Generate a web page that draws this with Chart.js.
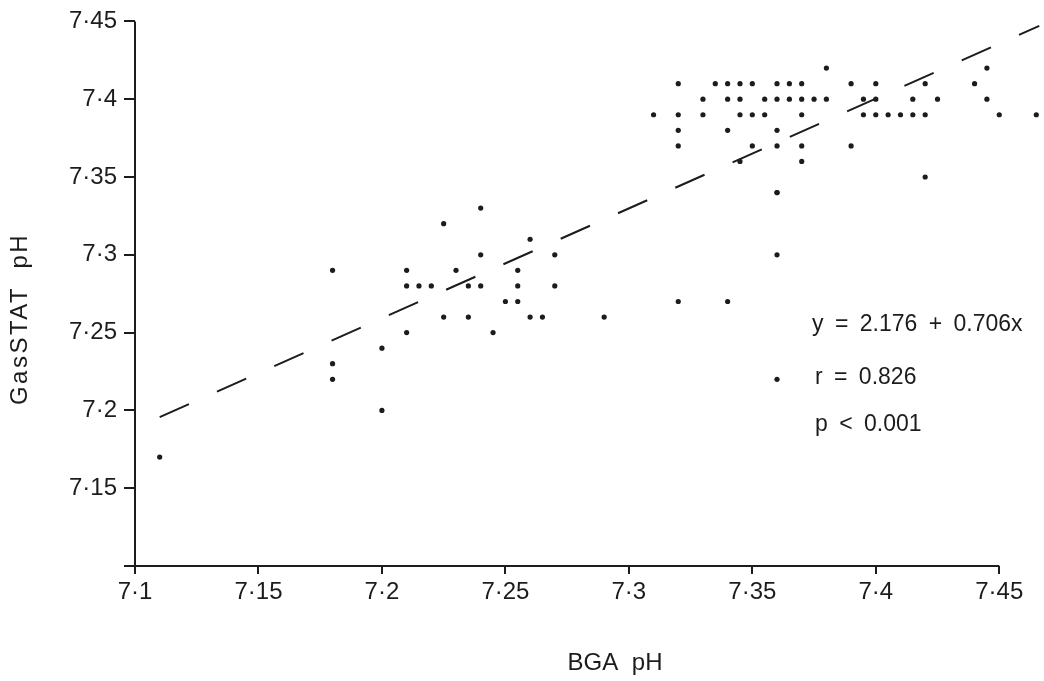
<!DOCTYPE html>
<html>
<head>
<meta charset="utf-8">
<script src="https://cdn.jsdelivr.net/npm/chart.js@4.4.1/dist/chart.umd.min.js"></script>
<style>
  html, body { margin:0; padding:0; background:#fff; }
  #wrap { width:1044px; height:681px; }
</style>
</head>
<body>
<div id="wrap"><canvas id="c" width="1044" height="681"></canvas></div>
<script>
// paired readings: blood gas analyser pH vs GasSTAT pH
const bgaPh = [
  7.11, 7.18, 7.18, 7.18, 7.20, 7.20, 7.21, 7.21, 7.215, 7.22, 7.21, 7.225, 7.225,
  7.23, 7.235, 7.235, 7.24, 7.24, 7.24, 7.245, 7.25, 7.255, 7.255, 7.255, 7.26, 7.26,
  7.265, 7.27, 7.27, 7.29, 7.32, 7.34, 7.36, 7.36, 7.36, 7.42,
  // 7.41 row
  7.32, 7.335, 7.34, 7.345, 7.35, 7.36, 7.365, 7.37, 7.39, 7.40, 7.42, 7.44,
  // 7.42 row
  7.38, 7.445,
  // 7.40 row
  7.33, 7.34, 7.345, 7.355, 7.36, 7.365, 7.37, 7.375, 7.38, 7.395, 7.40, 7.415, 7.425, 7.445,
  // 7.39 row
  7.31, 7.32, 7.33, 7.345, 7.35, 7.355, 7.37, 7.395, 7.40, 7.405, 7.41, 7.415, 7.42, 7.45, 7.465,
  // 7.38 .. 7.34
  7.32, 7.34, 7.36,
  7.32, 7.35, 7.36, 7.37, 7.39,
  7.345, 7.37,
  7.36
];
const gasstatPh = [
  7.17, 7.29, 7.23, 7.22, 7.24, 7.20, 7.29, 7.28, 7.28, 7.28, 7.25, 7.32, 7.26,
  7.29, 7.28, 7.26, 7.33, 7.30, 7.28, 7.25, 7.27, 7.29, 7.28, 7.27, 7.31, 7.26,
  7.26, 7.30, 7.28, 7.26, 7.27, 7.27, 7.30, 7.34, 7.22, 7.35,
  7.41, 7.41, 7.41, 7.41, 7.41, 7.41, 7.41, 7.41, 7.41, 7.41, 7.41, 7.41,
  7.42, 7.42,
  7.40, 7.40, 7.40, 7.40, 7.40, 7.40, 7.40, 7.40, 7.40, 7.40, 7.40, 7.40, 7.40, 7.40,
  7.39, 7.39, 7.39, 7.39, 7.39, 7.39, 7.39, 7.39, 7.39, 7.39, 7.39, 7.39, 7.39, 7.39, 7.39,
  7.38, 7.38, 7.38,
  7.37, 7.37, 7.37, 7.37, 7.37,
  7.36, 7.36,
  7.34
];

const xTicks = [7.1, 7.15, 7.2, 7.25, 7.3, 7.35, 7.4, 7.45];
const xTickLabels = ['7·1', '7·15', '7·2', '7·25', '7·3', '7·35', '7·4', '7·45'];
const yTicks = [7.1, 7.15, 7.2, 7.25, 7.3, 7.35, 7.4, 7.45];
const yTickLabels = ['', '7·15', '7·2', '7·25', '7·3', '7·35', '7·4', '7·45'];

// regression y = a + b x, drawn over the range of the readings
const fitIntercept = 2.176;
const fitSlope = 0.706;
const fitRange = [7.11, 7.4662];
const statLines = ['y = 2.176 + 0.706x', 'r = 0.826', 'p < 0.001'];

const FONT = "'Liberation Sans', Arial, sans-serif";
const INK = '#1c1c1c';

const points = bgaPh.map((x, i) => ({ x, y: gasstatPh[i] }));
const fitLine = fitRange.map(x => ({ x, y: fitIntercept + fitSlope * x }));

const useTicks = vals => scale => { scale.ticks = vals.map(v => ({ value: v })); };

// axis lines stop at the last labelled tick; titles and stats are set by hand
const frame = {
  id: 'frame',
  afterDraw(chart) {
    const { ctx, scales: { x, y } } = chart;
    const x0 = x.getPixelForValue(7.1), x1 = x.getPixelForValue(7.45);
    const y0 = y.getPixelForValue(7.1), y1 = y.getPixelForValue(7.45);
    ctx.save();
    ctx.strokeStyle = INK;
    ctx.lineWidth = 2;
    ctx.beginPath();
    ctx.moveTo(x0, y1); ctx.lineTo(x0, y0); ctx.lineTo(x1, y0);
    ctx.stroke();

    ctx.fillStyle = INK;
    ctx.textAlign = 'center';
    ctx.textBaseline = 'middle';
    ctx.font = '24px ' + FONT;
    ctx.wordSpacing = '7px';
    ctx.fillText('BGA pH', 615, 663);
    ctx.save();
    ctx.translate(20, 319);
    ctx.rotate(-Math.PI / 2);
    ctx.letterSpacing = '2.5px';
    ctx.wordSpacing = '8px';
    ctx.fillText('GasSTAT pH', 0, 0);
    ctx.restore();

    ctx.textAlign = 'left';
    ctx.font = '23px ' + FONT;
    ctx.wordSpacing = '5px';
    ctx.fillText(statLines[0], 812, 325);
    ctx.fillText(statLines[1], 815, 378);
    ctx.fillText(statLines[2], 815, 425);
    ctx.restore();
  }
};

new Chart(document.getElementById('c'), {
  type: 'scatter',
  data: {
    datasets: [
      { data: points, pointRadius: 2.6, pointBorderWidth: 0, pointBackgroundColor: INK },
      { data: fitLine, showLine: true, borderColor: INK, borderWidth: 2,
        borderDash: [32, 30.7], pointRadius: 0, fill: false }
    ]
  },
  options: {
    responsive: false,
    animation: false,
    layout: { padding: { top: 16, right: 0, left: 0, bottom: 0 } },
    plugins: { legend: { display: false }, tooltip: { enabled: false } },
    scales: {
      x: {
        type: 'linear', min: 7.1, max: 7.4665,
        afterBuildTicks: useTicks(xTicks),
        afterFit: s => { s.height = 115; },
        border: { display: false },
        grid: { drawOnChartArea: false, drawTicks: true, tickLength: 8, color: INK, lineWidth: 2 },
        ticks: { color: INK, padding: 4, maxRotation: 0, autoSkip: false,
                 font: { family: FONT, size: 24 }, callback: (v, i) => xTickLabels[i] }
      },
      y: {
        type: 'linear', min: 7.1, max: 7.45,
        afterBuildTicks: useTicks(yTicks),
        afterFit: s => { s.width = 135; },
        border: { display: false },
        grid: { drawOnChartArea: false, drawTicks: true, tickLength: 11, color: INK, lineWidth: 2 },
        ticks: { color: INK, padding: 7, autoSkip: false,
                 font: { family: FONT, size: 24 }, callback: (v, i) => yTickLabels[i] }
      }
    }
  },
  plugins: [frame]
});
</script>
</body>
</html>
